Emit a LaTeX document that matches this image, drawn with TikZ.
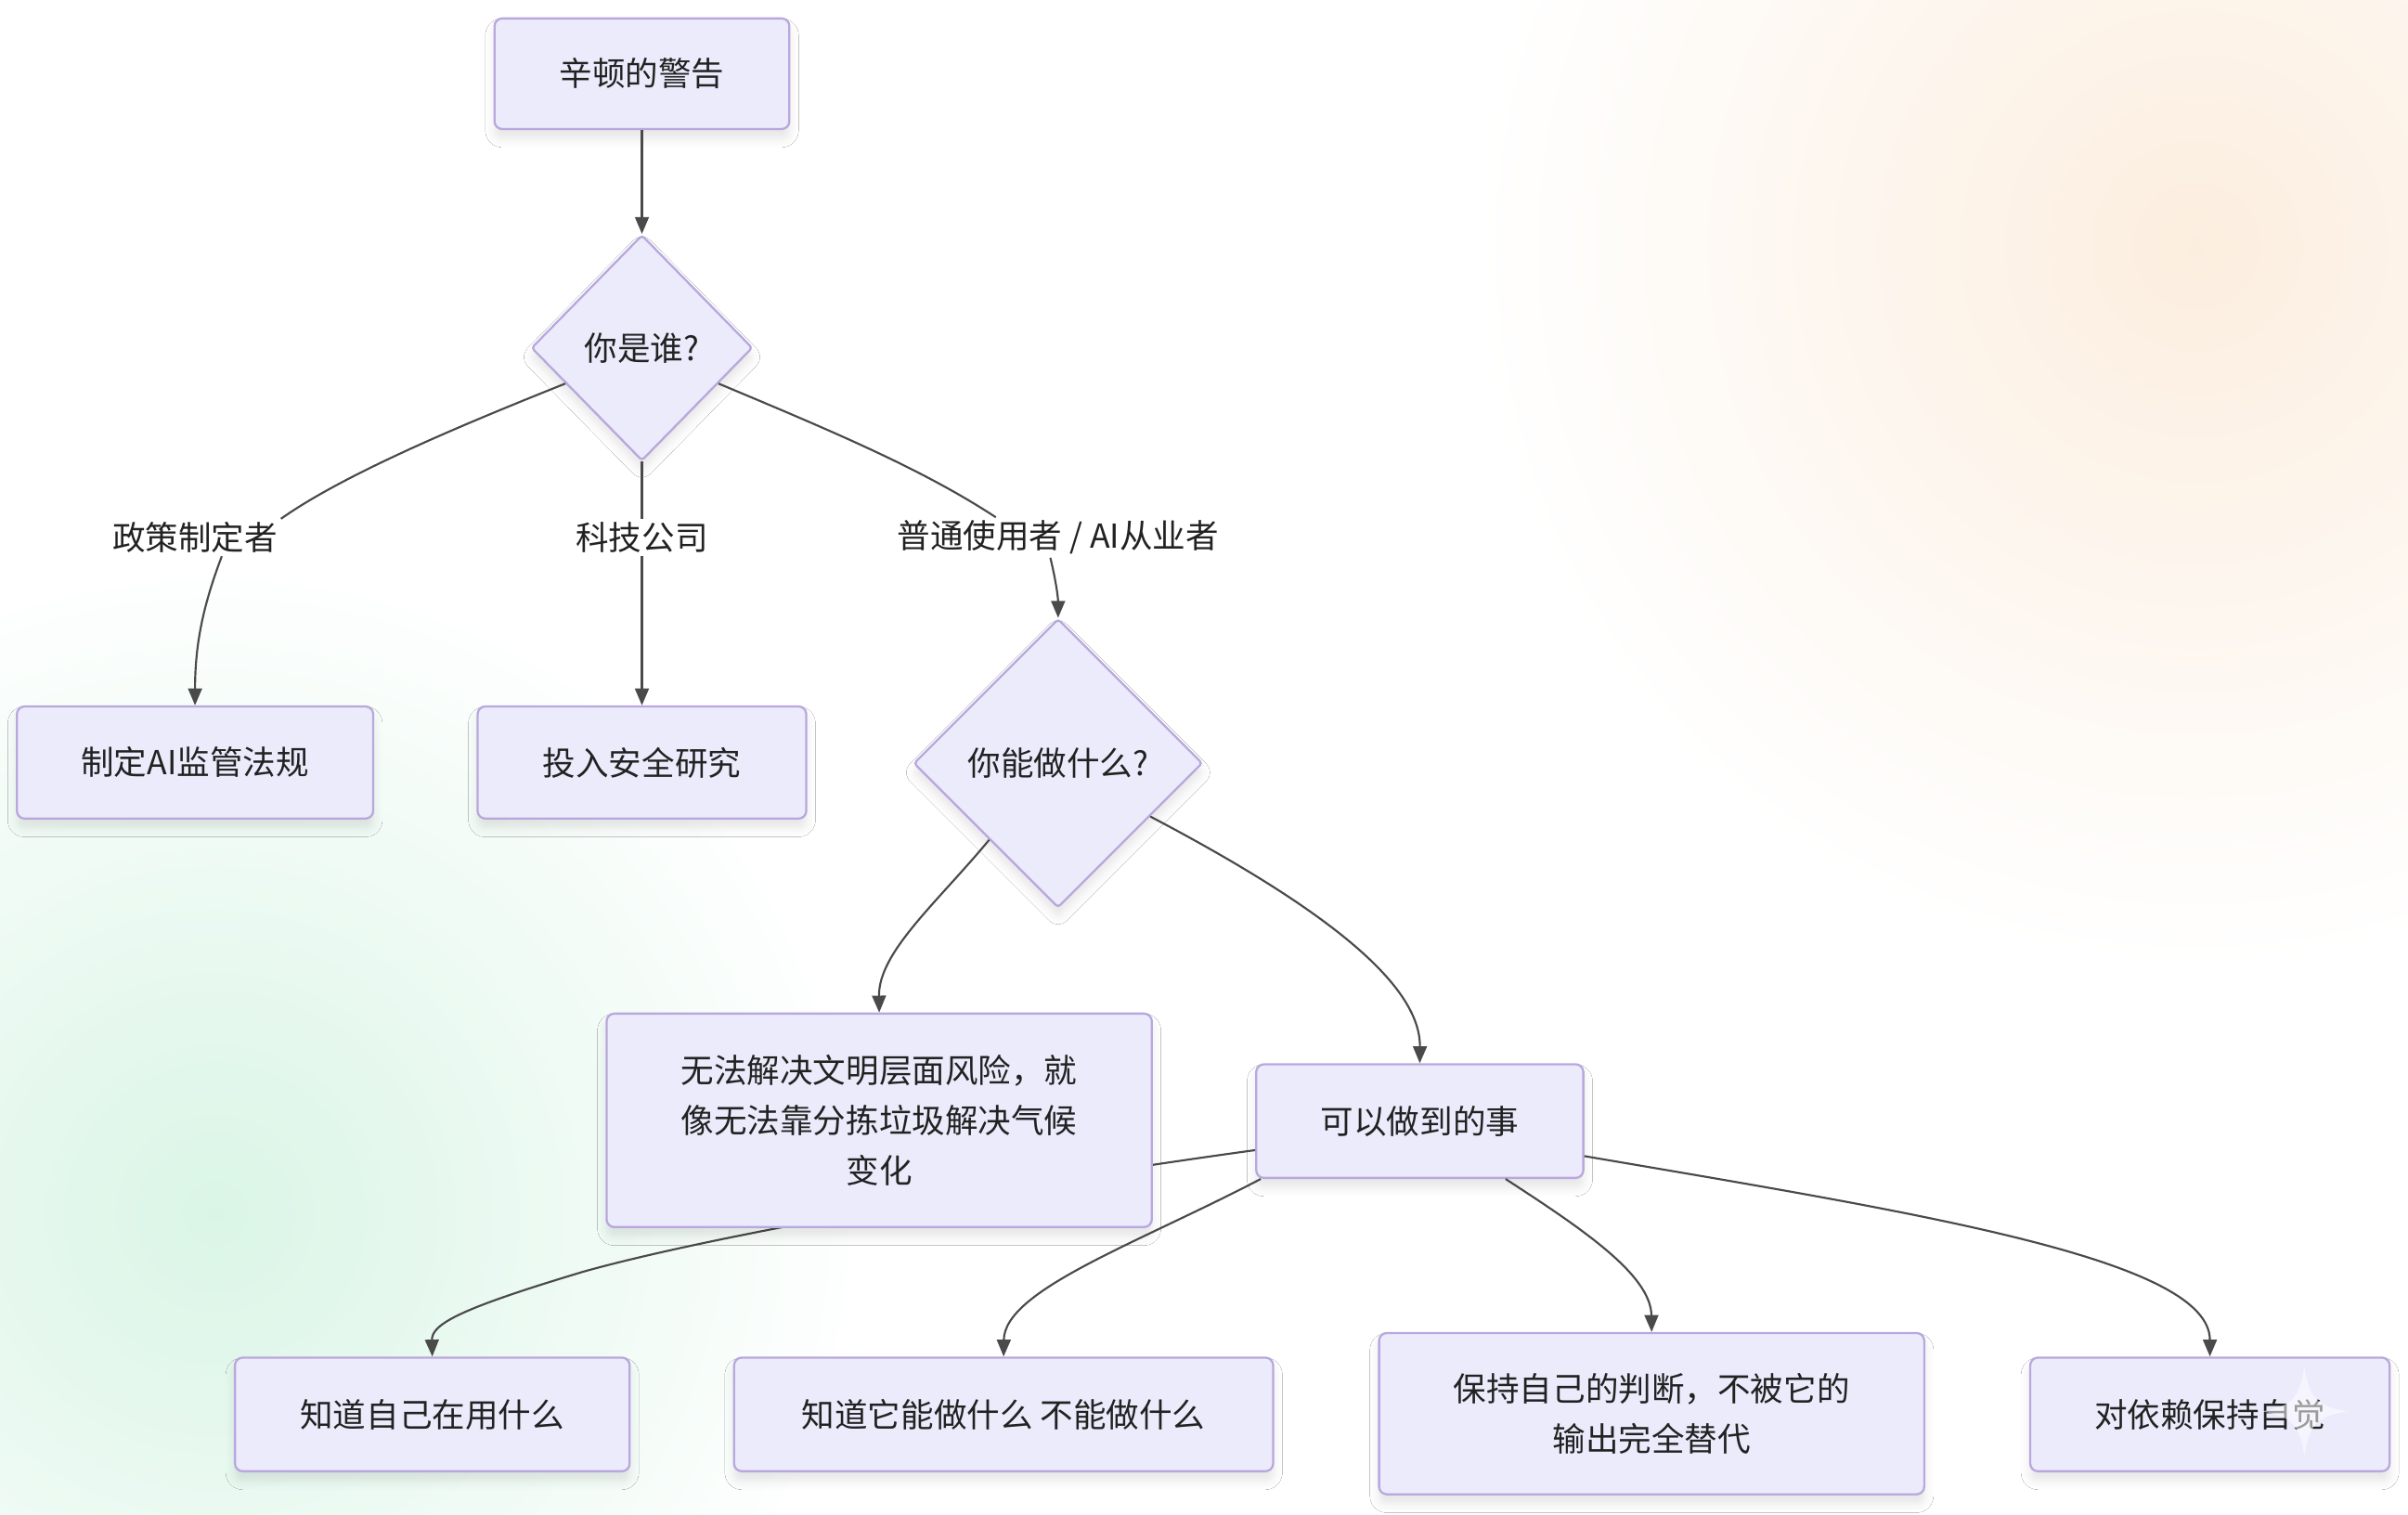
\documentclass[tikz,border=0pt]{standalone}
\usepackage{fontspec}
\setmainfont{Noto Sans CJK SC}
\usetikzlibrary{shapes.geometric,arrows.meta,shadows.blur}
\definecolor{boxfill}{HTML}{ECEBFC}
\definecolor{boxline}{HTML}{B9A8DD}
\definecolor{edgec}{HTML}{4A4A4A}
\definecolor{txt}{HTML}{222222}
\definecolor{peach}{HTML}{FCEEDF}
\definecolor{mint}{HTML}{DAF5E6}
\begin{document}
\begin{tikzpicture}[x=1pt,y=-1pt,
  txtfont/.style={font=\fontsize{21.5}{32.5}\selectfont, text=txt},
  softshadow/.style={blur shadow={shadow xshift=0pt, shadow yshift=-6pt, shadow blur radius=6pt, shadow opacity=10}},
  box/.style={draw=boxline, fill=boxfill, line width=1.4pt, rounded corners=5pt, inner sep=0pt, align=center, txtfont, softshadow},
  dia/.style={diamond, draw=boxline, fill=boxfill, line width=1.4pt, rounded corners=2pt, inner sep=0pt, txtfont, softshadow},
  lbl/.style={inner sep=2pt, txtfont},
  edge/.style={draw=edgec, line width=1.3pt},
  arr/.style={edge, -{Triangle[length=11pt,width=9pt]}},
]
\useasboundingbox (0,0) rectangle (1568,986);
\fill[white] (0,0) rectangle (1568,986);
% soft background glows
\shade[inner color=peach, outer color=white] (1430,160) circle (470);
\shade[inner color=mint, outer color=white] (140,790) circle (430);

% nodes
\node[box, minimum width=192pt, minimum height=72pt] (n1) at (418,48) {辛顿的警告};
\node[dia, minimum width=144pt, minimum height=147pt] (d1) at (418,226.5) {你是谁?};
\node[lbl] (l1) at (127,350) {政策制定者};
\node[lbl] (l2) at (418,350) {科技公司};
\node[lbl] (l3) at (689,350) {普通使用者 / AI从业者};
\node[box, minimum width=232pt, minimum height=73pt] (n4) at (127,496.5) {制定AI监管法规};
\node[box, minimum width=214pt, minimum height=73pt] (n5) at (418,496.5) {投入安全研究};
\node[dia, minimum width=188pt, minimum height=188pt] (d2) at (689,497) {你能做什么?};
\node[box, minimum width=213pt, minimum height=74pt] (n8) at (924.5,730) {可以做到的事};
\node[box, minimum width=257pt, minimum height=74pt] (n9) at (281.5,921) {知道自己在用什么};

% edge behind box n7
\draw[arr] (n8.190) .. controls (700,765) and (480,800) .. (380,828)
  .. controls (300,852) and (281,862) .. (n9.north);

\node[box, minimum width=355pt, minimum height=139pt] (n7) at (572.5,729.5) {无法解决文明层面风险，就\\像无法靠分拣垃圾解决气候\\变化};
\node[box, minimum width=351pt, minimum height=74pt] (n10) at (653.5,921) {知道它能做什么 不能做什么};
\node[box, minimum width=355pt, minimum height=105pt] (n11) at (1075.5,920.5) {保持自己的判断，不被它的\\输出完全替代};
\node[box, minimum width=234pt, minimum height=74pt] (n12) at (1439,921) {对依赖保持自觉};

% edges
\draw[arr] (n1.south) -- (d1.north);
\draw[edge] (d1.205) .. controls (305,275) and (225,308) .. (l1.north east);
\draw[arr] (l1.-35) .. controls (132,395) and (127,420) .. (n4.north);
\draw[edge] (d1.south) -- (l2.north);
\draw[arr] (l2.south) -- (n5.north);
\draw[edge] (d1.-25) .. controls (540,280) and (600,305) .. (l3.162);
\draw[arr] (l3.-111) .. controls (688,380) and (689,390) .. (d2.north);
\draw[arr] (d2.228) .. controls (610,588) and (572,620) .. (n7.north);
\draw[arr] (d2.-30) .. controls (860,590) and (925,640) .. (n8.north);
\draw[arr] (n8.200) .. controls (740,810) and (654,840) .. (n10.north);
\draw[arr] (n8.-34) .. controls (1030,800) and (1075,830) .. (n11.north);
\draw[arr] (n8.-12) .. controls (1250,790) and (1439,820) .. (n12.north);

% faint sparkle watermark
\fill[white, opacity=0.55] (1500.5,890) .. controls (1503.5,910) and (1508.5,916) .. (1528.5,919)
  .. controls (1508.5,922) and (1503.5,928) .. (1500.5,948)
  .. controls (1497.5,928) and (1492.5,922) .. (1472.5,919)
  .. controls (1492.5,916) and (1497.5,910) .. cycle;
\end{tikzpicture}
\end{document}
